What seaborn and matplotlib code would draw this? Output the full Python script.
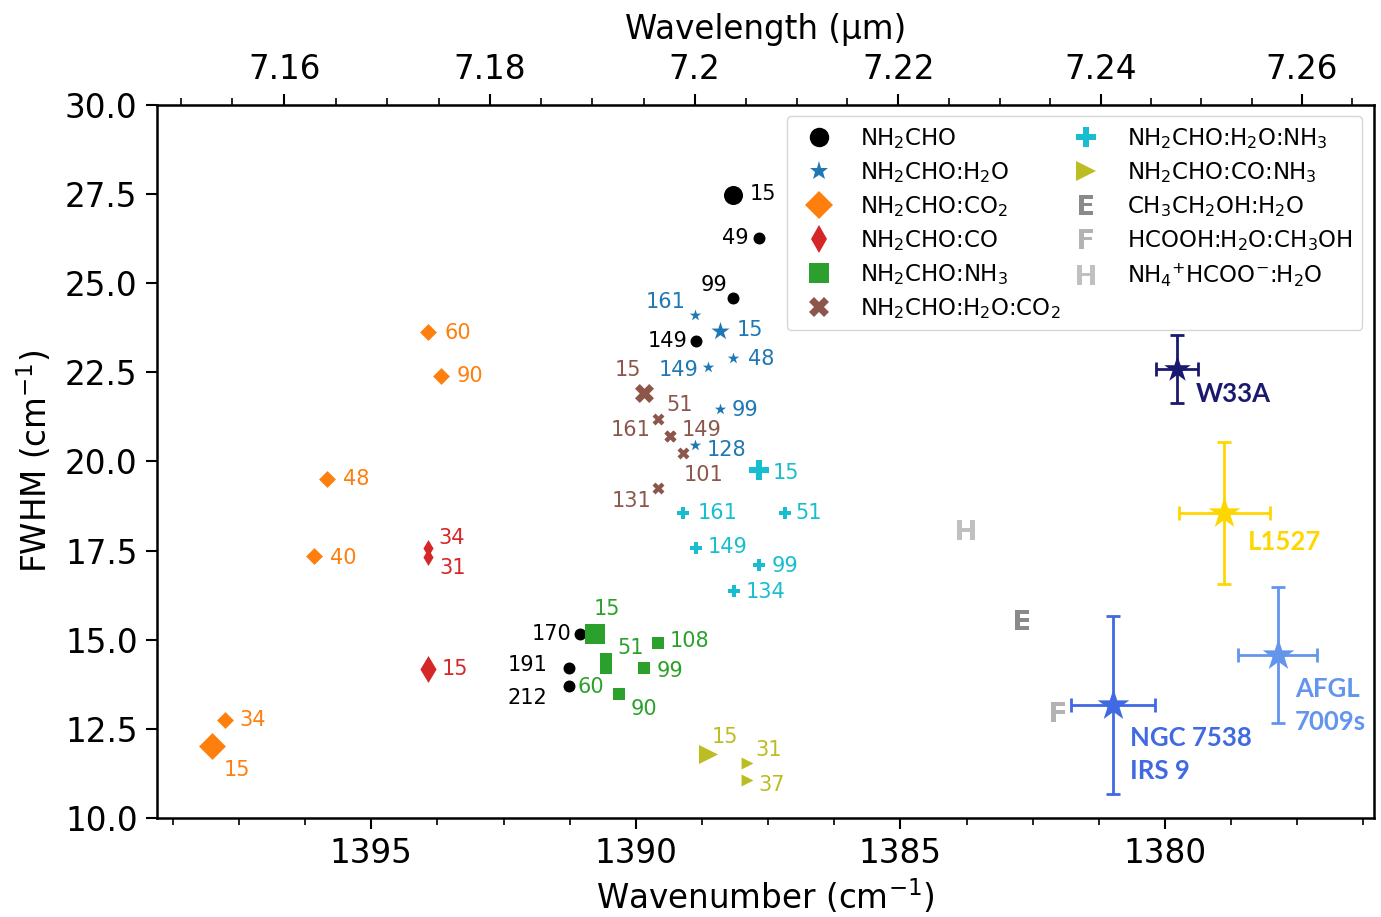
import numpy as np
import pandas as pd
import matplotlib
matplotlib.use("Agg")
import matplotlib.pyplot as plt
import seaborn as sns
from matplotlib.lines import Line2D
from matplotlib.ticker import MultipleLocator, FuncFormatter, FixedLocator

# ---------------- data ----------------
# NH2CHO (pure)
nh2cho_temp = [15, 49, 99, 149, 170, 191, 212]
nh2cho_wn = [1388.16, 1387.67, 1388.16, 1388.86, 1391.05, 1391.27, 1391.27]
nh2cho_fwhm = [27.48, 26.27, 24.59, 23.38, 15.16, 14.21, 13.70]

# NH2CHO:H2O
h2o_temp = [15, 48, 99, 128, 149, 161]
h2o_wn = [1388.41, 1388.16, 1388.41, 1388.88, 1388.63, 1388.88]
h2o_fwhm = [23.66, 22.90, 21.47, 20.46, 22.65, 24.11]

# NH2CHO:CO2
co2_temp = [15, 34, 40, 48, 60, 90]
co2_wn = [1398.01, 1397.76, 1396.08, 1395.84, 1393.92, 1393.69]
co2_fwhm = [12.02, 12.75, 17.35, 19.51, 23.63, 22.40]

# NH2CHO:CO
co_temp = [15, 31, 34]
co_wn = [1393.92, 1393.92, 1393.92]
co_fwhm = [14.18, 17.32, 17.57]

# NH2CHO:NH3
nh3_temp = [15, 51, 60, 90, 99, 108]
nh3_wn = [1390.78, 1390.56, 1390.56, 1390.31, 1389.84, 1389.59]
nh3_fwhm = [15.16, 14.45, 14.20, 13.48, 14.21, 14.91]

# NH2CHO:H2O:CO2
h2oco2_temp = [15, 51, 101, 131, 149, 161]
h2oco2_wn = [1389.84, 1389.58, 1389.10, 1389.58, 1389.35, 1389.35]
h2oco2_fwhm = [21.92, 21.19, 20.25, 19.27, 20.72, 20.72]

# NH2CHO:H2O:NH3
h2onh3_temp = [15, 51, 99, 134, 149, 161]
h2onh3_wn = [1387.67, 1387.18, 1387.67, 1388.14, 1388.86, 1389.10]
h2onh3_fwhm = [19.76, 18.56, 17.10, 16.37, 17.57, 18.56]

# NH2CHO:CO:NH3
conh3_temp = [15, 31, 37]
conh3_wn = [1388.63, 1387.90, 1387.90]
conh3_fwhm = [11.80, 11.54, 11.07]

# Other laboratory references (letters)
lab_names = ["E", "F", "H"]
lab_labels = [r"CH$_3$CH$_2$OH:H$_2$O", r"HCOOH:H$_2$O:CH$_3$OH",
              r"NH$_4$$^{+}$HCOO$^{-}$:H$_2$O"]
lab_wn = [1382.71, 1382.03, 1383.76]
lab_fwhm = [15.55, 12.97, 18.08]

# Astronomical observations
obs_names = ["W33A", "L1527", "NGC 7538\nIRS 9", "AFGL\n7009s"]
obs_wn = [1379.77, 1378.88, 1380.98, 1377.87]
obs_fwhm = [22.60, 18.55, 13.17, 14.57]
obs_wn_err = [0.39, 0.86, 0.79, 0.75]
obs_fwhm_err = [0.95, 2.00, 2.50, 1.90]

# top-axis tick labels (wavelength, µm)
wavelength_ticks = [7.16, 7.18, 7.20, 7.22, 7.24, 7.26]

# ---------------- styles ----------------
PX = 72.0 / 100.0  # px -> pt at dpi 100

series = [
    dict(label=r"NH$_2$CHO", temp=nh2cho_temp, wn=nh2cho_wn, fwhm=nh2cho_fwhm,
         color="black", marker="o",
         off=[(30, -1), (-24, 0), (-19, -13), (-29, 0), (-29, 0), (-41, -3), (-41, 12)]),
    dict(label=r"NH$_2$CHO:H$_2$O", temp=h2o_temp, wn=h2o_wn, fwhm=h2o_fwhm,
         color="#1f77b4", marker="*",
         off=[(30, -1), (28, 1), (25, 1), (31, 5), (-30, 3), (-29, -13)]),
    dict(label=r"NH$_2$CHO:CO$_2$", temp=co2_temp, wn=co2_wn, fwhm=co2_fwhm,
         color="#ff7f0e", marker="D",
         off=[(25, 24), (27, 0), (29, 2), (29, 0), (29, 1), (29, 0)]),
    dict(label=r"NH$_2$CHO:CO", temp=co_temp, wn=co_wn, fwhm=co_fwhm,
         color="#d62728", marker="d",
         off=[(26, 0), (24, 11), (23, -10)]),
    dict(label=r"NH$_2$CHO:NH$_3$", temp=nh3_temp, wn=nh3_wn, fwhm=nh3_fwhm,
         color="#2ca02c", marker="s",
         off=[(12, -25), (24, -11), (-15, 19), (24, 15), (26, 3), (32, -2)]),
    dict(label=r"NH$_2$CHO:H$_2$O:CO$_2$", temp=h2oco2_temp, wn=h2oco2_wn, fwhm=h2oco2_fwhm,
         color="#8c564b", marker="X",
         off=[(-16, -23), (22, -14), (20, 22), (-27, 13), (31, -6), (-40, -6)]),
    dict(label=r"NH$_2$CHO:H$_2$O:NH$_3$", temp=h2onh3_temp, wn=h2onh3_wn, fwhm=h2onh3_fwhm,
         color="#17becf", marker="P",
         off=[(27, 3), (24, 0), (26, 1), (31, 1), (31, -1), (34, 0)]),
    dict(label=r"NH$_2$CHO:CO:NH$_3$", temp=conh3_temp, wn=conh3_wn, fwhm=conh3_fwhm,
         color="#bcbd22", marker=">",
         off=[(17, -17), (22, -13), (25, 5)]),
]

lab_colors = ["#8a8a8a", "#b3b3b3", "#c0c0c0"]
obs_colors = ["#191970", "#FFD700", "#4169E1", "#6495ED"]
obs_star = [20, 24, 24, 24]
obs_off = [(19, 25), (24, 29), (17, 50), (17, 50)]

SMALL = 8.6
BIG = 13.7

fig = plt.figure(figsize=(13.81, 9.17), dpi=100)
ax = fig.add_axes([0.1137, 0.108, 0.8812, 0.7775])

for s in series:
    df = pd.DataFrame({"wn": s["wn"], "fwhm": s["fwhm"], "temp": s["temp"]})
    for big, ms in [(False, SMALL), (True, BIG)]:
        sub = df[(df["temp"] == 15) == big]
        sns.scatterplot(data=sub, x="wn", y="fwhm", ax=ax, marker=s["marker"],
                        color=s["color"], s=ms ** 2, linewidth=0, legend=False,
                        zorder=3)
    for t, x, y, (dx, dy) in zip(s["temp"], s["wn"], s["fwhm"], s["off"]):
        ax.annotate(str(t), (x, y), xytext=(dx * PX, -dy * PX),
                    textcoords="offset points", ha="center", va="center",
                    color=s["color"], fontsize=15)

for name, x, y, c in zip(lab_names, lab_wn, lab_fwhm, lab_colors):
    sns.scatterplot(x=[x], y=[y], ax=ax, marker=r"$\mathbf{%s}$" % name,
                    color=c, s=15 ** 2, linewidth=0, legend=False, zorder=3)

for name, x, y, xe, ye, c, ms, (dx, dy) in zip(obs_names, obs_wn, obs_fwhm, obs_wn_err,
                                              obs_fwhm_err, obs_colors, obs_star, obs_off):
    ax.errorbar(x, y, xerr=xe, yerr=ye, fmt="none", ecolor=c, elinewidth=2.0,
                capsize=5, capthick=2.0, zorder=2)
    sns.scatterplot(x=[x], y=[y], ax=ax, marker="*", color=c, s=ms ** 2,
                    linewidth=0, legend=False, zorder=4)
    ax.annotate(name, (x, y), xytext=(dx * PX, -dy * PX), textcoords="offset points",
                ha="left", va="center", color=c, fontsize=18.5, fontweight="bold",
                family=["Lato", "DejaVu Sans"], linespacing=1.45)

# axes
ax.set_xlim(1399.05, 1376.05)
ax.set_ylim(10, 30)
ax.xaxis.set_major_locator(MultipleLocator(5))
ax.xaxis.set_minor_locator(MultipleLocator(1.25))
ax.yaxis.set_major_locator(MultipleLocator(2.5))
ax.yaxis.set_major_formatter(FuncFormatter(lambda v, p: "%.1f" % v))
ax.set_xlabel(r"Wavenumber (cm$^{-1}$)", fontsize=23.5, labelpad=5)
ax.set_ylabel(r"FWHM (cm$^{-1}$)", fontsize=23.5, labelpad=8)
ax.tick_params(axis="both", which="major", labelsize=23.5, length=8, width=1.5, pad=6)
ax.tick_params(axis="x", which="minor", length=5, width=1.2)
for sp in ax.spines.values():
    sp.set_linewidth(1.8)

sec = ax.secondary_xaxis("top", functions=(lambda x: 1e4 / x, lambda x: 1e4 / x))
sec.xaxis.set_major_locator(FixedLocator(wavelength_ticks))
sec.xaxis.set_minor_locator(MultipleLocator(0.005))
sec.xaxis.set_major_formatter(FuncFormatter(lambda v, p: "%g" % round(v, 4)))
sec.tick_params(axis="x", which="major", labelsize=23.5, length=8, width=1.5, pad=6)
sec.tick_params(axis="x", which="minor", length=5, width=1.2)
sec.set_xlabel("Wavelength (µm)", fontsize=23.5, labelpad=10)

# legend
handles = []
for s in series:
    handles.append(Line2D([], [], linestyle="none", marker=s["marker"], color=s["color"],
                          markersize=14, markeredgewidth=0, label=s["label"]))
for name, lbl, c in zip(lab_names, lab_labels, lab_colors):
    handles.append(Line2D([], [], linestyle="none", marker=r"$\mathbf{%s}$" % name,
                          color=c, markersize=14, markeredgewidth=0, label=lbl))
ax.legend(handles=handles, ncol=2, loc="upper right", fontsize=16.5,
          handletextpad=0.8, columnspacing=0.1, labelspacing=0.4, borderaxespad=0.5)

fig.savefig("out.png", dpi=100)
